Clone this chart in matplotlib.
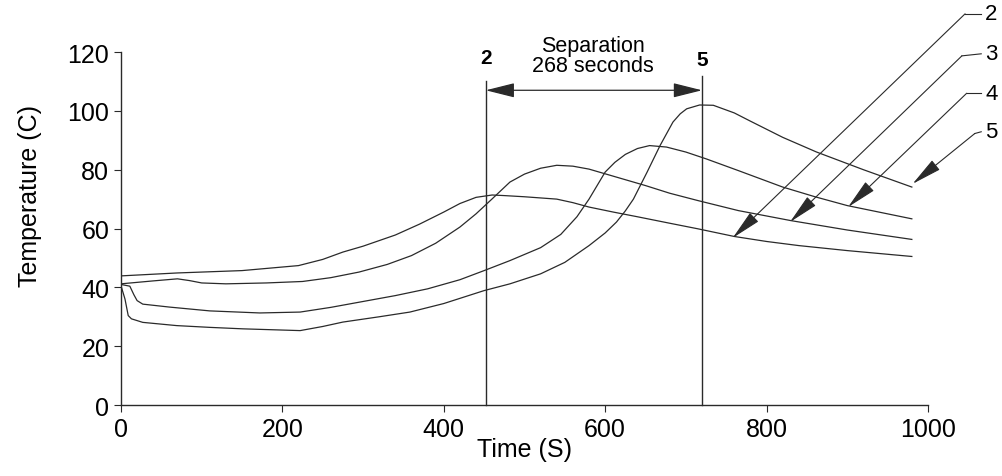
import matplotlib
matplotlib.use("Agg")
import matplotlib.pyplot as plt

plt.rcParams['font.family'] = ['Liberation Sans', 'DejaVu Sans']

# thermocouple traces
t2 = [0, 70, 150, 220, 250, 275, 300, 340, 370, 400, 420, 440, 460, 475, 500, 540, 560, 580,
      610, 640, 680, 715, 760, 800, 840, 900, 980]
T2 = [43.9, 44.9, 45.7, 47.4, 49.5, 52, 54, 57.8, 61.5, 65.6, 68.5, 70.6, 71.4, 71.2, 70.8, 70,
      68.8, 67.3, 65.6, 64, 61.8, 59.9, 57.3, 55.6, 54.2, 52.5, 50.5]

t3 = [0, 40, 70, 85, 100, 130, 180, 225, 260, 295, 330, 360, 390, 420, 440, 460, 482, 500,
      520, 540, 560, 580, 600, 625, 650, 680, 715, 765, 830, 900, 980]
T3 = [41.2, 42.2, 42.9, 42.3, 41.5, 41.2, 41.5, 42, 43.3, 45.2, 47.8, 50.8, 55, 60.5, 65, 70.1,
      75.8, 78.5, 80.5, 81.5, 81.2, 80.2, 78.6, 76.6, 74.6, 72, 69.5, 66.1, 62.7, 59.5, 56.3]

t4 = [0, 11, 16, 20, 27, 60, 110, 172, 222, 260, 296, 340, 380, 420, 450, 482, 520, 545, 565,
      580, 600, 612, 625, 640, 655, 676, 700, 725, 765, 820, 860, 900, 980]
T4 = [41, 40.4, 37.5, 35.5, 34.3, 33.3, 32, 31.3, 31.6, 33.2, 35, 37.2, 39.5, 42.6, 45.7, 49.1,
      53.5, 58, 64, 70, 79.2, 82.5, 85.2, 87.2, 88.2, 87.7, 86, 83.7, 79.7, 74.1, 70.8, 67.8, 63.3]

t5 = [0, 5, 9, 13, 27, 69, 110, 151, 222, 250, 275, 320, 358, 400, 450, 482, 520, 550, 580,
      600, 614, 625, 635, 652, 668, 684, 693, 701, 717, 734, 760, 780, 820, 862, 920, 980]
T5 = [40.6, 36, 30.4, 29.3, 28.1, 27, 26.4, 25.9, 25.3, 26.7, 28.2, 30, 31.6, 34.5, 38.9, 41.2,
      44.6, 48.5, 54.2, 58.5, 62.2, 66, 70, 79.2, 88.2, 96.2, 99, 100.7, 102, 101.9, 99.3, 96.5,
      91, 86, 80, 74.1]

# peak times of sensor 2 and sensor 5
peak2 = 452
peak5 = 720
sep = 268

# curve labels: (name, label y, leader start, arrow tip)
labels = ["2", "3", "4", "5"]
label_y = [133, 119.4, 106, 92.9]
start_pts = [(1046, 133), (1042, 118.7), (1048, 106), (1058, 92.3)]
tip_pts = [(758, 56.8), (829, 62.2), (901, 67.3), (981, 75.2)]

fig = plt.figure(figsize=(10.03, 4.77), dpi=100)
ax = fig.add_axes([0.1206, 0.1488, 0.8046, 0.740])

lc = "#2a2a2a"
for t, T in [(t2, T2), (t3, T3), (t4, T4), (t5, T5)]:
    ax.plot(t, T, color=lc, lw=0.9)

ax.set_xlim(0, 1000)
ax.set_ylim(0, 120)
ax.set_xticks(range(0, 1001, 200))
ax.set_yticks(range(0, 121, 20))
ax.spines['top'].set_visible(False)
ax.spines['right'].set_visible(False)
for s in ['left', 'bottom']:
    ax.spines[s].set_color(lc)
    ax.spines[s].set_linewidth(1.0)
ax.tick_params(axis='both', labelsize=18, length=5, color=lc, direction='out')
ax.set_xlabel("Time (S)", fontsize=18, labelpad=-3)
ax.set_ylabel("Temperature (C)", fontsize=18)
ax.yaxis.set_label_coords(-0.098, 0.595)

# vertical markers at the peaks
ax.plot([peak2, peak2], [0, 110], color=lc, lw=1.0, clip_on=False)
ax.plot([peak5, peak5], [0, 112], color=lc, lw=1.0, clip_on=False)
ax.text(peak2, 118, "2", fontsize=15, fontweight='bold', ha='center', va='center')
ax.text(peak5, 117.5, "5", fontsize=15, fontweight='bold', ha='center', va='center')

ax.annotate("", xy=(peak2, 107), xytext=(peak5, 107),
            arrowprops=dict(arrowstyle="<|-|>,head_length=1.8,head_width=0.45",
                            mutation_scale=10, color=lc, lw=0.9,
                            shrinkA=0, shrinkB=0))
ax.text(585, 118.7, "Separation\n%d seconds" % sep, fontsize=15.5,
        ha='center', va='center', linespacing=0.95)

# curve identification arrows on the right
for name, ly, (sx, sy), (tx, ty) in zip(labels, label_y, start_pts, tip_pts):
    ax.annotate("", xy=(tx, ty), xytext=(sx, sy), annotation_clip=False,
                arrowprops=dict(arrowstyle="-|>,head_length=1.9,head_width=0.38",
                                mutation_scale=10, color=lc, lw=0.8,
                                shrinkA=0, shrinkB=0))
    ax.plot([sx, 1066], [sy, ly], color=lc, lw=0.8, clip_on=False)
    ax.text(1071, ly, name, fontsize=16, ha='left', va='center')

fig.savefig("out.png", dpi=100)
